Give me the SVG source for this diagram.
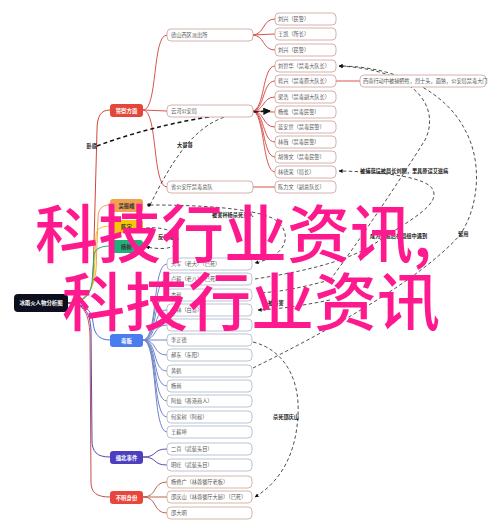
<svg xmlns="http://www.w3.org/2000/svg" width="499" height="529" viewBox="0 0 499 529">
<defs>
<marker id="arr" viewBox="0 0 10 10" refX="9" refY="5" markerWidth="5" markerHeight="5" orient="auto-start-reverse">
<path d="M0,0 L10,5 L0,10 z" fill="#111"/>
</marker>
<style>
text{font-family:"Noto Sans CJK SC","Noto Sans",sans-serif;}
.t{font-size:5.2px;fill:#555;}
.tw{font-size:5.4px;fill:#fff;font-weight:bold;}
.td{font-size:5.4px;fill:#333;font-weight:bold;}
.np{fill:#fff;stroke:#c9a09a;stroke-width:0.8;}
.nb{fill:#fff;stroke:#a9b4c8;stroke-width:0.8;}
.nr{fill:#fff;stroke:#c9a594;stroke-width:0.8;}
.cr{fill:none;stroke:#d9534f;stroke-width:1;}
.cb{fill:none;stroke:#6f86c9;stroke-width:1;}
.cp{fill:none;stroke:#5a50b0;stroke-width:1;}
.cu{fill:none;stroke:#b8654f;stroke-width:1;}
.d{fill:none;stroke:#222;stroke-width:0.8;stroke-dasharray:3.5 2.5;}
.dk{fill:none;stroke:#111;stroke-width:1.5;stroke-dasharray:4 3;}
.lb{font-size:5.2px;fill:#222;font-weight:bold;}
.wm{font-size:63px;fill:#fe1a8e;font-weight:500;font-family:"Noto Sans CJK SC",sans-serif;}
</style>
</defs>
<rect width="499" height="529" fill="#fff"/>

<g id="connectors">
<path fill="none" stroke="#d6453b" stroke-width="1" d="M68,303 C84,303 91,294 93,280 L97,130 C97,116 101,110 110,110"/>
<path fill="none" stroke="#f0a04a" stroke-width="1" d="M68,303 C84,303 94,290 96,270 L98,218 C98,209 102,205 110,205"/>
<path fill="none" stroke="#f2c40c" stroke-width="1" d="M68,303 C84,303 92,292 94,275 L96,236 C96,229 101,226 110,226"/>
<path fill="none" stroke="#1fae78" stroke-width="1" d="M68,303 C84,303 91,294 92,282 L94,256 C94,250 99,246 110,246"/>
<path fill="none" stroke="#4a72e0" stroke-width="1" d="M68,303 C84,303 92,310 93,322 C94,334 99,340 110,340"/>
<path fill="none" stroke="#5548b8" stroke-width="1" d="M68,303 C84,303 90,312 91,330 L92,440 C92,452 97,457 110,457"/>
<path fill="none" stroke="#c0504d" stroke-width="1" d="M68,303 C84,303 89,314 90,335 L91,482 C91,493 97,497 110,497"/>

<path class="cr" d="M143,110 C158,110 152,35 167,35"/>
<path class="cr" d="M143,110 L167,111"/>
<path class="cr" d="M143,110 C158,110 152,187 167,187"/>
<path class="cr" d="M252,35 C265,35 262,19 275,19"/>
<path class="cr" d="M252,35 L275,34"/>
<path class="cr" d="M252,35 C265,35 262,50 275,50"/>
<path class="cr" d="M252,111 C265,111 262,66 275,66"/>
<path class="cr" d="M252,111 C265,111 262,81 275,81"/>
<path class="cr" d="M252,111 C265,111 262,97 275,97"/>
<path class="cr" d="M252,111 C265,111 262,112 275,112"/>
<path class="cr" d="M252,111 C265,111 262,127 275,127"/>
<path class="cr" d="M252,111 C265,111 262,142 275,142"/>
<path class="cr" d="M252,111 C265,111 262,157 275,157"/>
<path class="cr" d="M252,111 C265,111 262,172 275,172"/>
<path class="cr" d="M252,187 L275,187"/>
<path class="cr" d="M336,81 L360,81"/>

<path class="cb" d="M143,340 C158,340 152,264 167,264"/>
<path class="cb" d="M143,340 C158,340 152,279 167,279"/>
<path class="cb" d="M143,340 C158,340 152,295 167,295"/>
<path class="cb" d="M143,340 C158,340 152,310 167,310"/>
<path class="cb" d="M143,340 C158,340 152,325 167,325"/>
<path class="cb" d="M143,340 C158,340 152,340 167,340"/>
<path class="cb" d="M143,340 C158,340 152,355 167,355"/>
<path class="cb" d="M143,340 C158,340 152,371 167,371"/>
<path class="cb" d="M143,340 C158,340 152,386 167,386"/>
<path class="cb" d="M143,340 C158,340 152,401 167,401"/>
<path class="cb" d="M143,340 C158,340 152,417 167,417"/>
<path class="cb" d="M143,340 C158,340 152,432 167,432"/>

<path class="cp" d="M143,457 C158,457 152,449 167,449"/>
<path class="cp" d="M143,457 C158,457 152,465 167,465"/>

<path class="cu" d="M143,497 C158,497 152,482 167,482"/>
<path class="cu" d="M143,497 L167,497"/>
<path class="cu" d="M143,497 C158,497 152,513 167,513"/>

<path class="dk" d="M97,146 C140,130 200,114 270,111" marker-end="url(#arr)"/>
<path class="d" d="M150,205 C170,165 192,126 228,116 C248,112 258,111 270,111" marker-end="url(#arr)"/>
<circle cx="149" cy="205" r="1.8" fill="#111"/>
<path class="d" d="M150,205 C200,205 250,208 272,218 C292,228 292,255 255,263" marker-end="url(#arr)"/>
<path class="d" d="M146,228 C170,226 182,236 176,244 C170,250 158,249 146,247" marker-end="url(#arr)"/>
<path class="d" d="M255,279 C300,272 350,262 380,240 C410,220 440,205 433,190 C428,178 390,172 339,171" marker-end="url(#arr)"/>
<path class="d" d="M330,280 C360,240 400,180 425,140 C440,110 420,70 339,66" marker-end="url(#arr)"/>
<path class="d" d="M330,280 C300,288 280,292 258,293" marker-end="url(#arr)"/>
<path class="d" d="M330,300 C300,306 280,309 258,310" marker-end="url(#arr)"/>
<path class="d" d="M253,368 C330,330 420,280 460,235 C480,205 482,160 465,130 C448,95 400,66 339,66" marker-end="url(#arr)"/>
<path class="d" d="M253,342 C285,350 300,380 298,415 C296,455 280,482 255,497" marker-end="url(#arr)"/>
</g>

<g id="labels">
<text class="lb" x="97" y="148" text-anchor="end">卧底</text>
<text class="lb" x="177" y="147">大哥哥</text>
<text class="lb" x="212" y="217">被害杯杨杀死亲人</text>
<text class="lb" x="158" y="239">反目成仇</text>
<text class="lb" x="360" y="173">被捕获设被局长刘刚，里具原误艾滋病</text>
<text class="lb" x="370" y="238">成为卧底后在局组中遇到</text>
<text class="lb" x="458" y="236">留用</text>
<text class="lb" x="268" y="305">被杀害</text>
<text class="lb" x="273" y="419">杀死邵庆山</text>
</g>

<g id="root">
<rect x="14" y="294" width="54" height="18" rx="4" fill="#0d0f1e"/>
<text class="tw" x="41" y="305" text-anchor="middle">冰雨火人物分析图</text>
</g>

<g id="police">
<rect x="110" y="104" width="33" height="13" rx="3" fill="#e5463a"/>
<text class="tw" x="126.5" y="112.8" text-anchor="middle">警察方面</text>
</g>
<g id="wzf"><rect x="110" y="199" width="33" height="13" rx="3" fill="#f0a254"/><text class="td" x="126.5" y="207.8" text-anchor="middle">吴振峰</text></g>
<g id="cy"><rect x="110" y="220" width="33" height="13" rx="3" fill="#f6c60a"/><text class="td" x="126.5" y="228.8" text-anchor="middle">陈宇</text></g>
<g id="ys"><rect x="110" y="240" width="33" height="13" rx="3" fill="#21b07b"/><text class="td" x="126.5" y="248.8" text-anchor="middle">杨树</text></g>
<g id="dealer"><rect x="110" y="334" width="33" height="13" rx="3" fill="#4a7cf0"/><text class="tw" x="126.5" y="342.8" text-anchor="middle">毒贩</text></g>
<g id="armed"><rect x="110" y="451" width="33" height="13" rx="3" fill="#4b3fbf"/><text class="tw" x="126.5" y="459.8" text-anchor="middle">缅北事件</text></g>
<g id="unknown"><rect x="110" y="491" width="33" height="13" rx="3" fill="#e8463c"/><text class="tw" x="126.5" y="499.8" text-anchor="middle">不明身份</text></g>

<g id="p-l2">
<g id="ds"><rect class="np" x="167" y="29" width="86" height="12" rx="4"/><text class="t" x="171" y="37">德山西区派出所</text></g>
<g id="yh"><rect class="np" x="167" y="105" width="86" height="12" rx="4"/><text class="t" x="171" y="113">云河公安局</text></g>
<g id="st"><rect class="np" x="167" y="181" width="86" height="12" rx="4"/><text class="t" x="171" y="189">省公安厅禁毒总队</text></g>
</g>
<g id="p-l3">
<g><rect class="np" x="275" y="13" width="61" height="12" rx="4"/><text class="t" x="278" y="21">刘兴（民警）</text></g>
<g><rect class="np" x="275" y="28" width="61" height="12" rx="4"/><text class="t" x="278" y="36">王凯（所长）</text></g>
<g><rect class="np" x="275" y="44" width="61" height="12" rx="4"/><text class="t" x="278" y="52">刘兴（民警）</text></g>
<g><rect class="np" x="275" y="60" width="61" height="12" rx="4"/><text class="t" x="278" y="68">刘世华（禁毒大队长）</text></g>
<g><rect class="np" x="275" y="75" width="61" height="12" rx="4"/><text class="t" x="278" y="83">蒋兴（禁毒原大队长）</text></g>
<g><rect class="np" x="275" y="91" width="61" height="12" rx="4"/><text class="t" x="278" y="99">梁浩（禁毒副大队长）</text></g>
<g><rect class="np" x="275" y="106" width="61" height="12" rx="4"/><text class="t" x="278" y="114">杨维（禁毒民警）</text></g>
<g><rect class="np" x="275" y="121" width="61" height="12" rx="4"/><text class="t" x="278" y="129">蓝安世（禁毒民警）</text></g>
<g><rect class="np" x="275" y="136" width="61" height="12" rx="4"/><text class="t" x="278" y="144">林薇（禁毒民警）</text></g>
<g><rect class="np" x="275" y="151" width="61" height="12" rx="4"/><text class="t" x="278" y="159">胡博文（禁毒民警）</text></g>
<g><rect class="np" x="275" y="166" width="61" height="12" rx="4"/><text class="t" x="278" y="174">林德荣（局长）</text></g>
<g><rect class="np" x="275" y="181" width="61" height="12" rx="4"/><text class="t" x="278" y="189">陈力文（副总队长）</text></g>
<g><rect class="np" x="360" y="75" width="126" height="12" rx="4"/><text class="t" x="363" y="83">西南行动中被捕牺牲，烈士头，面熟，公安局禁毒大门</text></g>
</g>

<g id="d-l2">
<g><rect class="nb" x="167" y="258" width="85" height="12" rx="4"/><text class="t" x="171" y="266">大军（老大）（已死）</text></g>
<g><rect class="nb" x="167" y="273" width="85" height="12" rx="4"/><text class="t" x="171" y="281">卢毅（老八）（已死）</text></g>
<g><rect class="nb" x="167" y="289" width="85" height="12" rx="4"/><text class="t" x="171" y="297">杰叔</text></g>
<g><rect class="nb" x="167" y="304" width="85" height="12" rx="4"/><text class="t" x="171" y="312">白林（白哥）</text></g>
<g><rect class="nb" x="167" y="319" width="85" height="12" rx="4"/><text class="t" x="171" y="327">萨沙</text></g>
<g><rect class="nb" x="167" y="334" width="85" height="12" rx="4"/><text class="t" x="171" y="342">李正德</text></g>
<g><rect class="nb" x="167" y="349" width="85" height="12" rx="4"/><text class="t" x="171" y="357">郝东（东阳）</text></g>
<g><rect class="nb" x="167" y="365" width="85" height="12" rx="4"/><text class="t" x="171" y="373">黄鹤</text></g>
<g><rect class="nb" x="167" y="380" width="85" height="12" rx="4"/><text class="t" x="171" y="388">杨尚</text></g>
<g><rect class="nb" x="167" y="395" width="85" height="12" rx="4"/><text class="t" x="171" y="403">阿灿（香港商人）</text></g>
<g><rect class="nb" x="167" y="411" width="85" height="12" rx="4"/><text class="t" x="171" y="419">何家树（阿叔）</text></g>
<g><rect class="nb" x="167" y="426" width="85" height="12" rx="4"/><text class="t" x="171" y="434">王毅坤</text></g>
<g><rect class="nb" x="167" y="443" width="85" height="12" rx="4"/><text class="t" x="171" y="451">二肖（武装头目）</text></g>
<g><rect class="nb" x="167" y="459" width="85" height="12" rx="4"/><text class="t" x="171" y="467">明旺（武装头目）</text></g>
<g><rect class="nr" x="167" y="476" width="85" height="12" rx="4"/><text class="t" x="171" y="484">杨修广（林蓉餐厅老板）</text></g>
<g><rect class="nr" x="167" y="491" width="85" height="12" rx="4"/><text class="t" x="171" y="499">邵庆山（林蓉餐厅大厨）（已死）</text></g>
<g><rect class="nr" x="167" y="507" width="85" height="12" rx="4"/><text class="t" x="171" y="515">邵大明</text></g>
</g>

<g id="watermark">
<text class="wm" x="35" y="257">科技行业资讯,</text>
<text class="wm" x="62" y="325">科技行业资讯</text>
</g>
</svg>
